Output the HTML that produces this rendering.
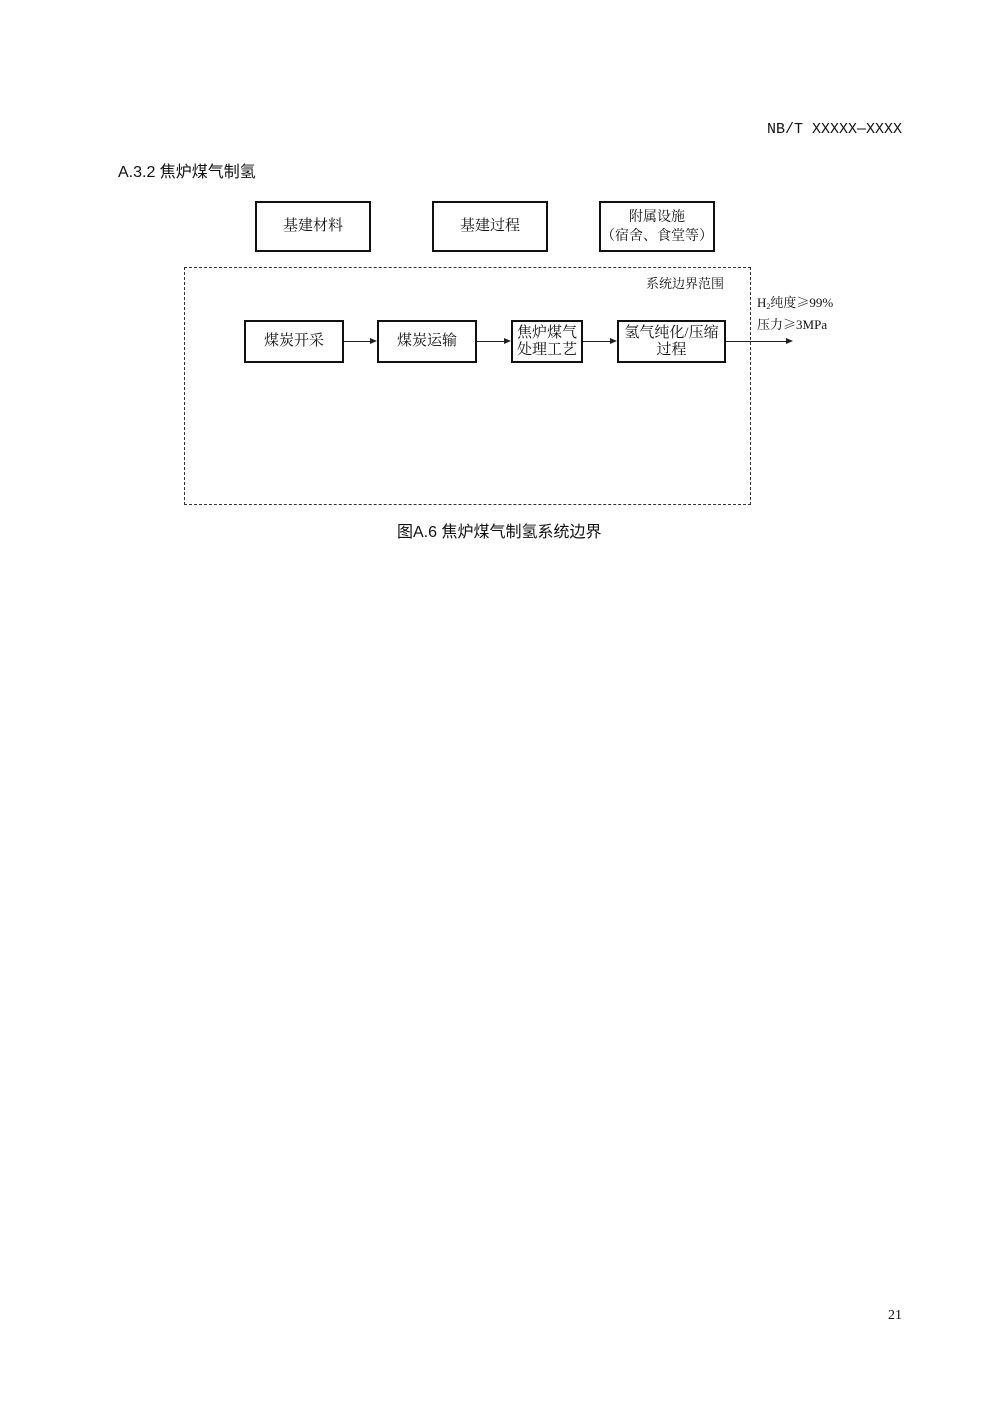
<!DOCTYPE html>
<html><head><meta charset="utf-8"><style>
body{margin:0;width:1000px;height:1414px;background:#fff;position:relative;font-family:"Liberation Serif","Noto Serif CJK SC",serif;color:#111}
.a{position:absolute}
.b{position:absolute;border:2.5px solid #111;box-sizing:border-box;display:flex;align-items:center;justify-content:center;text-align:center;font-size:15px;line-height:17px;white-space:nowrap}
.h{position:absolute;height:1px;background:#222}
.ar{position:absolute;width:0;height:0;border-top:3px solid transparent;border-bottom:3px solid transparent;border-left:7px solid #222}
.s{font-family:"Liberation Sans","Noto Sans CJK SC",sans-serif}
.c{font-family:"Noto Serif CJK SC",serif}
</style></head><body>
<div class="a" style="left:767px;top:121px;font-size:15px;font-family:'Liberation Mono','Noto Sans CJK SC',monospace">NB/T XXXXX—XXXX</div>
<div class="a s" style="left:118px;top:158px;font-size:16px">A.3.2 焦炉煤气制氢</div>
<div class="b" style="left:255px;top:201px;width:116px;height:51px">基建材料</div>
<div class="b" style="left:432px;top:201px;width:116px;height:51px">基建过程</div>
<div class="b" style="left:599px;top:201px;width:116px;height:51px;line-height:19px;font-size:14px">附属设施<br>（宿舍、食堂等）</div>
<div class="a" style="left:184px;top:267px;width:565px;height:236px;border:1px dashed #333"></div>
<div class="a" style="left:646px;top:273px;font-size:13px">系统边界范围</div>
<div class="b" style="left:244px;top:320px;width:100px;height:43px">煤炭开采</div>
<div class="b" style="left:377px;top:320px;width:100px;height:43px">煤炭运输</div>
<div class="b" style="left:511px;top:320px;width:72px;height:43px">焦炉煤气<br>处理工艺</div>
<div class="b" style="left:617px;top:320px;width:109px;height:43px">氢气纯化/压缩<br>过程</div>
<div class="h" style="left:344px;top:341px;width:27px"></div><div class="ar" style="left:370px;top:338px"></div>
<div class="h" style="left:477px;top:341px;width:28px"></div><div class="ar" style="left:504px;top:338px"></div>
<div class="h" style="left:583px;top:341px;width:28px"></div><div class="ar" style="left:610px;top:338px"></div>
<div class="h" style="left:726px;top:341px;width:60px"></div><div class="ar" style="left:786px;top:338px"></div>
<div class="a" style="left:757px;top:293px;font-size:13px;line-height:17px">H<span style="font-size:8px;vertical-align:-2px">2</span>纯度<span class="c">≥</span>99%<br>压力<span class="c">≥</span>3MPa</div>
<div class="a s" style="left:397px;top:518px;font-size:16px">图A.6 焦炉煤气制氢系统边界</div>
<div class="a" style="left:888px;top:1308px;font-size:14px">21</div>
</body></html>
